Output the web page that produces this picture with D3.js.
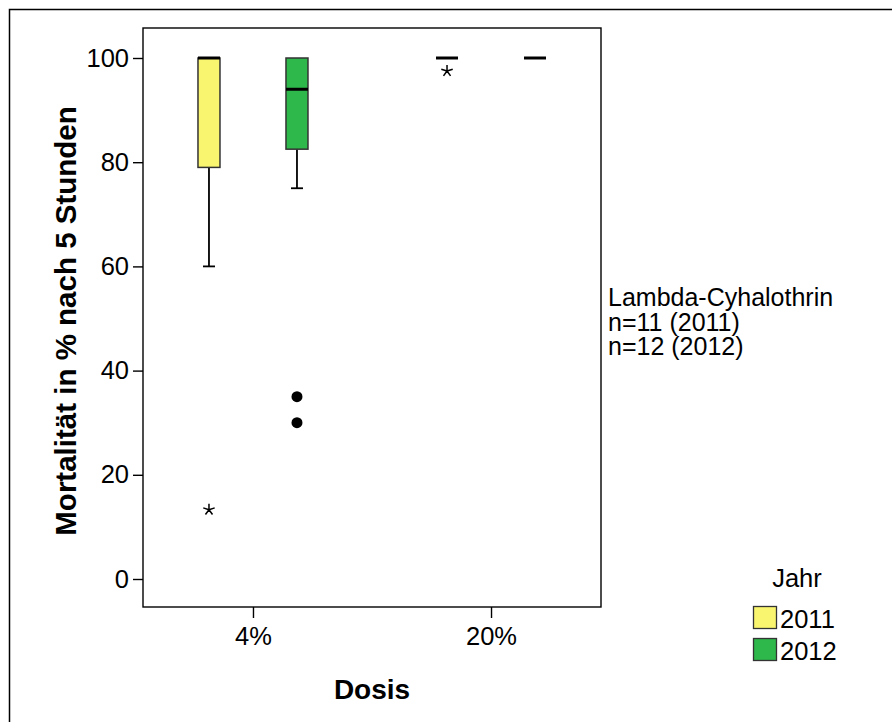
<!DOCTYPE html>
<html>
<head>
<meta charset="UTF-8">
<title>Mortalität nach 5 Stunden</title>
<script src="https://cdn.jsdelivr.net/npm/d3@7"></script>
<style>
  body { margin: 0; background: #fff; }
  svg { font-family: "Liberation Sans", Arial, sans-serif; }
</style>
</head>
<body>
<svg width="892" height="722"></svg>
<script>
// categories
var doses = ["4%", "20%"];
var years = ["2011", "2012"];
var yTicks = [0, 20, 40, 60, 80, 100];

// box statistics, one entry per dose x year
var boxDose   = ["4%", "4%", "20%", "20%"];
var boxYear   = ["2011", "2012", "2011", "2012"];
var whiskLow  = [60, 75, 100, 100];
var q1        = [79, 82.5, 100, 100];
var median    = [100, 94, 100, 100];
var q3        = [100, 100, 100, 100];
var whiskHigh = [100, 100, 100, 100];

// outliers (circle) and extremes (star)
var outDose  = ["4%", "4%", "4%", "20%"];
var outYear  = ["2011", "2012", "2012", "2011"];
var outValue = [13.3, 35, 30, 97.5];
var outKind  = ["extreme", "outlier", "outlier", "extreme"];

var colors = {"2011": "#faf56e", "2012": "#2eb84b"};

var svg = d3.select("svg");
var plotL = 143, plotR = 601, plotT = 28, plotB = 607;

// outer frame
svg.append("rect")
    .attr("x", 9.5).attr("y", 9.5)
    .attr("width", 900).attr("height", 730)
    .attr("fill", "none").attr("stroke", "#000").attr("stroke-width", 1.5);

var y = d3.scaleLinear().domain([0, 100]).range([579, 58]);
var x = d3.scalePoint().domain(doses).range([plotL, plotR]).padding(0.462);
var xs = d3.scalePoint().domain(years).range([-44, 44]);
var boxW = 22;

// plot frame
svg.append("rect")
    .attr("x", plotL).attr("y", plotT)
    .attr("width", plotR - plotL).attr("height", plotB - plotT)
    .attr("fill", "none").attr("stroke", "#000").attr("stroke-width", 1.4);

// y axis
var yAxis = svg.append("g")
    .attr("transform", "translate(" + plotL + ",0)")
    .call(d3.axisLeft(y).tickValues(yTicks).tickSize(10).tickPadding(4));
yAxis.select(".domain").remove();
yAxis.attr("font-size", 25.5).attr("font-family", "Liberation Sans, Arial, sans-serif");
yAxis.selectAll("text").attr("fill", "#000");
yAxis.selectAll("line").attr("stroke-width", 1.4);

// x axis
var xAxis = svg.append("g")
    .attr("transform", "translate(0," + plotB + ")")
    .call(d3.axisBottom(x).tickSize(11).tickPadding(9));
xAxis.select(".domain").remove();
xAxis.attr("font-size", 25.5).attr("font-family", "Liberation Sans, Arial, sans-serif");
xAxis.selectAll("text").attr("fill", "#000");
xAxis.selectAll("line").attr("stroke-width", 1.4);

// axis titles
svg.append("text")
    .attr("transform", "translate(75.5,321) rotate(-90)")
    .attr("text-anchor", "middle")
    .attr("font-size", 29.5).attr("font-weight", "bold")
    .text("Mortalität in % nach 5 Stunden");

svg.append("text")
    .attr("x", (plotL + plotR) / 2).attr("y", 699)
    .attr("text-anchor", "middle")
    .attr("font-size", 28).attr("font-weight", "bold")
    .text("Dosis");

// boxes
var boxes = boxDose.map(function (d, i) {
    return {dose: d, year: boxYear[i], lo: whiskLow[i], q1: q1[i], med: median[i], q3: q3[i], hi: whiskHigh[i]};
});

var g = svg.selectAll(".box")
    .data(boxes)
    .enter()
    .append("g")
    .attr("class", "box")
    .attr("transform", function (d) { return "translate(" + (x(d.dose) + xs(d.year)) + ",0)"; });

g.filter(function (d) { return d.lo < d.q1; }).each(function (d) {
    var s = d3.select(this);
    s.append("line").attr("x1", 0).attr("x2", 0)
        .attr("y1", y(d.q1)).attr("y2", y(d.lo))
        .attr("stroke", "#000").attr("stroke-width", 1.8);
    s.append("line").attr("x1", -6).attr("x2", 6)
        .attr("y1", y(d.lo)).attr("y2", y(d.lo))
        .attr("stroke", "#000").attr("stroke-width", 1.8);
});

g.filter(function (d) { return d.q3 > d.q1; })
    .append("rect")
    .attr("x", -boxW / 2).attr("width", boxW)
    .attr("y", function (d) { return y(d.q3); })
    .attr("height", function (d) { return y(d.q1) - y(d.q3); })
    .attr("fill", function (d) { return colors[d.year]; })
    .attr("stroke", "#333").attr("stroke-width", 1.5);

g.append("line")
    .attr("x1", -boxW / 2).attr("x2", boxW / 2)
    .attr("y1", function (d) { return y(d.med); })
    .attr("y2", function (d) { return y(d.med); })
    .attr("stroke", "#000").attr("stroke-width", 3);

// outliers
var outs = outDose.map(function (d, i) {
    return {dose: d, year: outYear[i], v: outValue[i], kind: outKind[i]};
});

function starPath(r) {
    var p = "";
    for (var k = 0; k < 5; k++) {
        var a = -Math.PI / 2 + k * 2 * Math.PI / 5;
        p += "M0,0L" + (r * Math.cos(a)).toFixed(2) + "," + (r * Math.sin(a)).toFixed(2);
    }
    return p;
}

svg.selectAll(".out")
    .data(outs)
    .enter()
    .append("path")
    .attr("class", "out")
    .attr("transform", function (d) { return "translate(" + (x(d.dose) + xs(d.year)) + "," + y(d.v) + ")"; })
    .attr("d", function (d) { return d.kind === "outlier" ? d3.symbol().type(d3.symbolCircle).size(95)() : starPath(6); })
    .attr("fill", function (d) { return d.kind === "outlier" ? "#000" : "none"; })
    .attr("stroke", "#000")
    .attr("stroke-width", function (d) { return d.kind === "outlier" ? 0 : 1.5; });

// annotation
var note = ["Lambda-Cyhalothrin", "n=11 (2011)", "n=12 (2012)"];
svg.append("g").selectAll("text")
    .data(note)
    .enter()
    .append("text")
    .attr("x", 608)
    .attr("y", function (d, i) { return 306 + i * 24.5; })
    .attr("font-size", 25)
    .text(function (d) { return d; });

// legend
svg.append("text")
    .attr("x", 797).attr("y", 586.5)
    .attr("text-anchor", "middle")
    .attr("font-size", 25.5)
    .text("Jahr");

var lg = svg.selectAll(".leg")
    .data(years)
    .enter()
    .append("g")
    .attr("class", "leg")
    .attr("transform", function (d, i) { return "translate(753.5," + (606.5 + i * 32) + ")"; });

lg.append("rect")
    .attr("width", 23).attr("height", 22)
    .attr("fill", function (d) { return colors[d]; })
    .attr("stroke", "#333").attr("stroke-width", 1.3);

lg.append("text")
    .attr("x", 26.5).attr("y", 21.5)
    .attr("font-size", 25.5)
    .text(function (d) { return d; });
</script>
</body>
</html>
